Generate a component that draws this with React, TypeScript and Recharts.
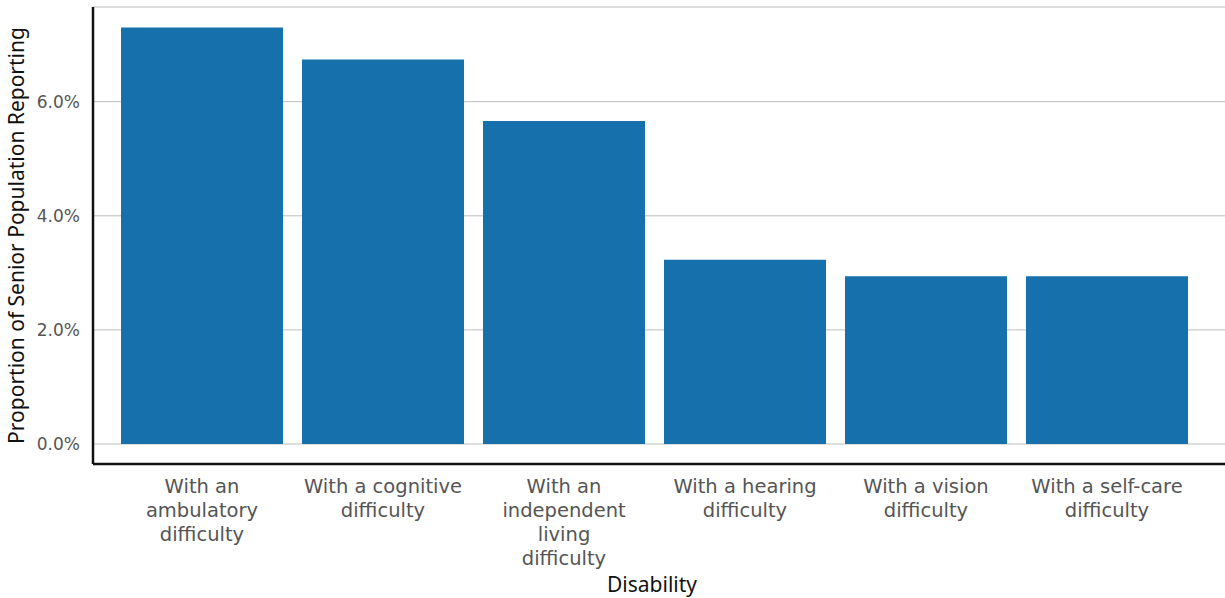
import React from 'react';
import { BarChart, Bar, XAxis, YAxis, CartesianGrid, Label } from 'recharts';

const categories = [
  'With an ambulatory difficulty',
  'With a cognitive difficulty',
  'With an independent living difficulty',
  'With a hearing difficulty',
  'With a vision difficulty',
  'With a self-care difficulty',
];
const tickLines: string[][] = [
  ['With an', 'ambulatory', 'difficulty'],
  ['With a cognitive', 'difficulty'],
  ['With an', 'independent', 'living', 'difficulty'],
  ['With a hearing', 'difficulty'],
  ['With a vision', 'difficulty'],
  ['With a self-care', 'difficulty'],
];
const values = [7.3, 6.74, 5.66, 3.23, 2.94, 2.94];
const yTicks = [0, 2, 4, 6];

const data = categories.map((c, i) => ({ name: c, value: values[i] }));

const TICK_FONT = '"DejaVu Sans", Verdana, sans-serif';
const LABEL_FONT = '"Noto Sans", "Open Sans", sans-serif';

const XTick = (props: any) => {
  const { x, y, index } = props;
  const lines = tickLines[index] || [];
  return (
    <g transform={`translate(${x},${y})`}>
      <text textAnchor="middle" fill="#555" fontSize={19.5} fontFamily={TICK_FONT}>
        {lines.map((l, i) => (
          <tspan key={i} x={0} y={21 + i * 24}>{l}</tspan>
        ))}
      </text>
    </g>
  );
};

export default function App() {
  return (
    <div style={{ position: 'absolute', left: 0, top: 0, background: '#fff' }}>
      <BarChart
        width={1225}
        height={598}
        data={data}
        margin={{ top: 7, right: 0, bottom: 0, left: 0 }}
        barCategoryGap={9.5}
      >
        <CartesianGrid vertical={false} stroke="#bdbdbd" strokeWidth={1} />
        <XAxis
          dataKey="name"
          axisLine={{ stroke: '#111', strokeWidth: 2.5 }}
          tickLine={false}
          tick={<XTick />}
          height={134}
          interval={0}
          padding={{ left: 18.5, right: 27.5 }}
        >
          <Label
            value="Disability"
            position="insideBottom"
            offset={6}
            fill="#111"
            fontSize={21}
            fontFamily={LABEL_FONT}
            dx={-7}
          />
        </XAxis>
        <YAxis
          width={93}
          domain={[0, 7.66]}
          ticks={yTicks}
          allowDataOverflow
          padding={{ top: 0, bottom: 20 }}
          tickFormatter={(v: number) => `${v.toFixed(1)}%`}
          axisLine={{ stroke: '#111', strokeWidth: 2.5 }}
          tickLine={false}
          tickSize={0}
          tickMargin={13}
          tick={{ fill: '#555', fontSize: 17, fontFamily: TICK_FONT }}
        >
          <Label
            value="Proportion of Senior Population Reporting"
            angle={-90}
            position="insideLeft"
            offset={0}
            dx={17}
            fill="#111"
            fontSize={21}
            fontFamily={LABEL_FONT}
            style={{ textAnchor: 'middle' }}
          />
        </YAxis>
        <Bar dataKey="value" fill="#1570ab" isAnimationActive={false} />
      </BarChart>
    </div>
  );
}
